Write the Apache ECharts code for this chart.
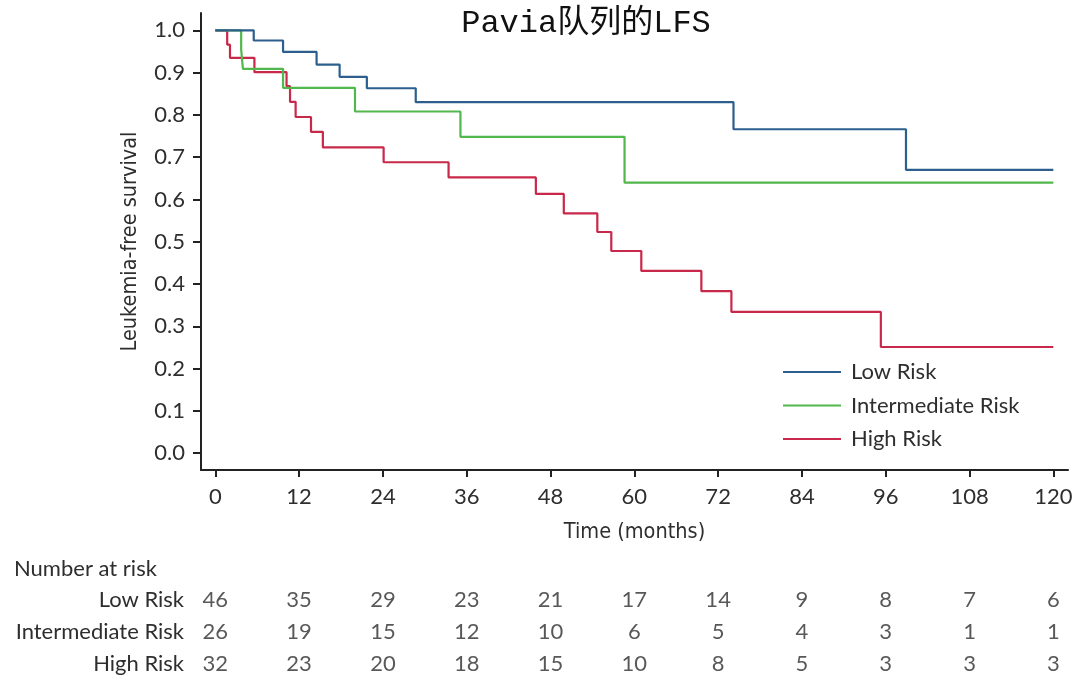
<!DOCTYPE html>
<html>
<head>
<meta charset="utf-8">
<script src="https://cdn.jsdelivr.net/npm/echarts@6/dist/echarts.min.js"></script>
<style>html,body{margin:0;padding:0;background:#fff}#c{width:1080px;height:685px}</style>
</head>
<body>
<div id="c"></div>
<script>
// ---- data ----
const seriesNames = ['Low Risk', 'Intermediate Risk', 'High Risk'];
const lowTimes = [0, 5.5, 9.7, 14.5, 17.8, 21.7, 28.7, 74.2, 98.9, 120];
const lowSurv  = [1, 0.976, 0.949, 0.919, 0.890, 0.863, 0.830, 0.766, 0.670, 0.670];
const intTimes = [0, 3.7, 3.95, 9.7, 20.0, 35.1, 58.6, 120];
const intSurv  = [1, 0.955, 0.909, 0.864, 0.808, 0.748, 0.640, 0.640];
const highTimes = [0, 1.7, 2.1, 5.6, 10.2, 10.7, 11.5, 13.7, 15.4, 24.1, 33.4, 45.9, 49.9, 54.7, 56.7, 61.0, 69.6, 73.9, 95.3, 120];
const highSurv  = [1, 0.966, 0.935, 0.901, 0.868, 0.831, 0.795, 0.760, 0.723, 0.688, 0.652, 0.613, 0.567, 0.523, 0.478, 0.431, 0.383, 0.334, 0.251, 0.251];
const xTicks = [0, 12, 24, 36, 48, 60, 72, 84, 96, 108, 120];
const yTicks = [0, 0.1, 0.2, 0.3, 0.4, 0.5, 0.6, 0.7, 0.8, 0.9, 1.0];
const riskLow  = [46, 35, 29, 23, 21, 17, 14, 9, 8, 7, 6];
const riskInt  = [26, 19, 15, 12, 10, 6, 5, 4, 3, 1, 1];
const riskHigh = [32, 23, 20, 18, 15, 10, 8, 5, 3, 3, 3];

const colors = ['#2c5f8e', '#52b74c', '#c8284a'];
const txt = '#2e2e2e';
const mainFont = 'Lato, "Open Sans", sans-serif';
const condFont = '"Liberation Sans Narrow", "DejaVu Sans Condensed", "Liberation Sans", sans-serif';

function zip(t, s) { return t.map((v, i) => [v, s[i]]); }
const kmData = [zip(lowTimes, lowSurv), zip(intTimes, intSurv), zip(highTimes, highSurv)];
const riskRows = [riskLow, riskInt, riskHigh];
const riskData = [];
riskRows.forEach((row, r) => row.forEach((n, i) => riskData.push([xTicks[i], seriesNames[r], n])));

const chart = echarts.init(document.getElementById('c'), null, { renderer: 'canvas' });
const xMin = -2.05, xMax = 122.1;
chart.setOption({
  animation: false,
  backgroundColor: '#fff',
  title: [
    { text: 'Pavia队列的LFS', left: 581, top: 3, textAlign: 'center',
      textStyle: { fontFamily: '"Liberation Mono", "Noto Sans CJK SC", monospace', fontSize: 32, fontWeight: 'normal', color: '#111' } },
    { text: 'Number at risk', left: 9, top: 553,
      textStyle: { fontFamily: mainFont, fontSize: 22, fontWeight: 'normal', color: txt } }
  ],
  legend: {
    orient: 'vertical', left: 783, top: 361, padding: 0,
    icon: 'rect', itemWidth: 58, itemHeight: 2, itemGap: 11.5,
    data: seriesNames,
    textStyle: { fontFamily: mainFont, fontSize: 22, color: txt, lineHeight: 22, padding: [0, 0, 0, 5] }
  },
  grid: [
    { left: 201, right: 12, top: 13, bottom: 215 },
    { left: 201, right: 12, top: 584, height: 96 }
  ],
  xAxis: [
    { type: 'value', gridIndex: 0, min: xMin, max: xMax,
      name: 'Time (months)', nameLocation: 'middle', nameGap: 51,
      nameTextStyle: { fontFamily: condFont, fontSize: 21.5, color: txt },
      axisLine: { show: true, onZero: false, lineStyle: { color: '#222', width: 2 } },
      axisTick: { show: true, length: 7, customValues: xTicks, lineStyle: { color: '#222', width: 2 } },
      axisLabel: { customValues: xTicks, margin: 16, fontFamily: mainFont, fontSize: 22, color: txt },
      splitLine: { show: false } },
    { type: 'value', gridIndex: 1, min: xMin, max: xMax, show: false }
  ],
  yAxis: [
    { type: 'value', gridIndex: 0, min: -0.04, max: 1.041,
      name: 'Leukemia-free survival', nameLocation: 'middle', nameGap: 60,
      nameTextStyle: { fontFamily: condFont, fontSize: 21.5, color: txt },
      axisLine: { show: true, onZero: false, lineStyle: { color: '#222', width: 2 } },
      axisTick: { show: true, length: 8, customValues: yTicks, lineStyle: { color: '#222', width: 2 } },
      axisLabel: { customValues: yTicks, margin: 16, fontFamily: mainFont, fontSize: 22, color: txt,
        formatter: v => v.toFixed(1) },
      splitLine: { show: false } },
    { type: 'category', gridIndex: 1, data: seriesNames, inverse: true,
      axisLine: { show: false }, axisTick: { show: false },
      axisLabel: { margin: 17, fontFamily: mainFont, fontSize: 22, color: txt } }
  ],
  series: [
    ...seriesNames.map((nm, i) => ({
      name: nm, type: 'line', step: 'end', data: kmData[i],
      xAxisIndex: 0, yAxisIndex: 0, symbol: 'none', showSymbol: false,
      lineStyle: { color: colors[i], width: 2.2 }, itemStyle: { color: colors[i] },
      z: 3 - i
    })),
    { type: 'scatter', xAxisIndex: 1, yAxisIndex: 1, data: riskData, symbolSize: 0,
      silent: true,
      label: { show: true, position: 'inside', formatter: p => p.value[2],
        fontFamily: mainFont, fontSize: 22, color: txt } }
  ]
});
</script>
</body>
</html>
